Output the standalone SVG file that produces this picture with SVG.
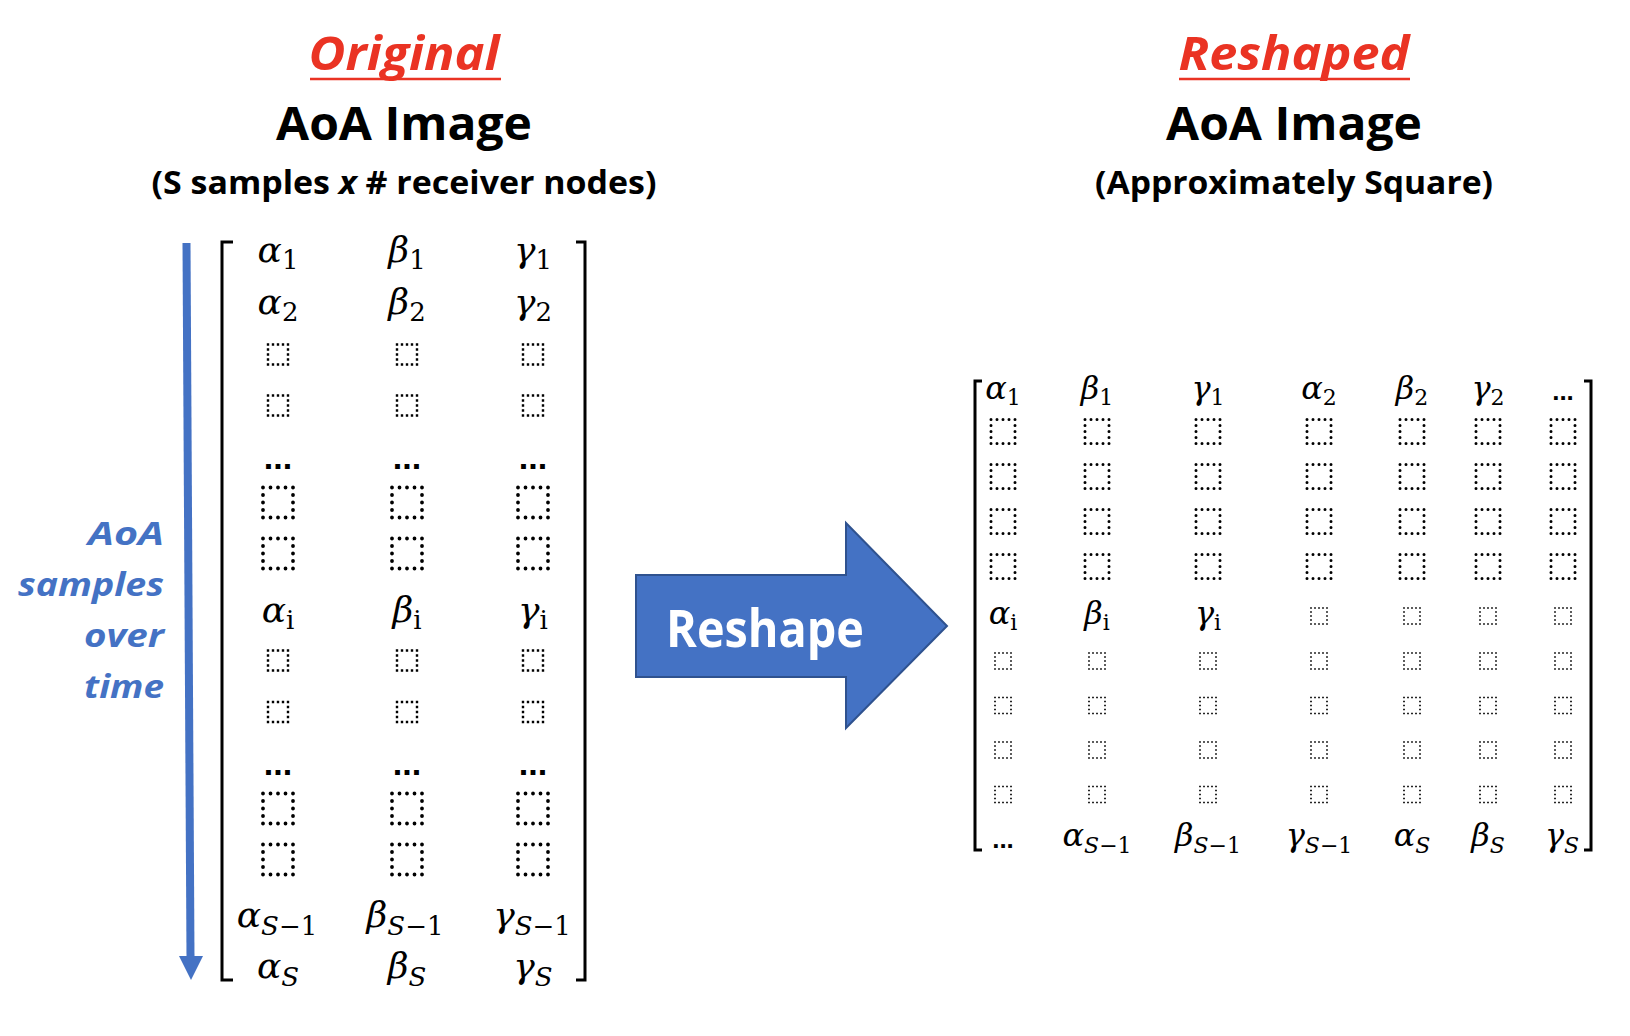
<svg xmlns="http://www.w3.org/2000/svg" xmlns:xlink="http://www.w3.org/1999/xlink" width="1630" height="1036" viewBox="0 0 1630 1036">
<style>
.t{font-family:"Open Sans","Liberation Sans",sans-serif;font-weight:700;text-anchor:middle}
.red{fill:#EA3323;font-style:italic}
.big{font-size:46px;fill:#000}
.subt{font-size:32px;fill:#000}
.side{font-family:"Open Sans","Liberation Sans",sans-serif;font-weight:700;font-style:italic;font-size:33px;fill:#4472C4;text-anchor:end}
.g{font-family:"DejaVu Serif","Liberation Serif",serif;font-style:italic;font-size:36px;text-anchor:middle;fill:#000}
.gr{font-family:"DejaVu Serif","Liberation Serif",serif;font-style:italic;font-size:32px;text-anchor:middle;fill:#000}
.s{font-style:normal;font-size:26px}
.sr{font-style:normal;font-size:22px}
.si{font-style:italic}
.dots{font-family:"Liberation Sans",sans-serif;font-weight:700;font-size:34px;text-anchor:middle;fill:#000}
.dotsr{font-family:"Liberation Sans",sans-serif;font-weight:700;font-size:26px;text-anchor:middle;fill:#000}
.br{fill:none;stroke:#000;stroke-width:3}
</style>
<defs>
<rect id="bsL" x="-10" y="-10" width="20" height="20" fill="none" stroke="#000" stroke-width="2.4" stroke-dasharray="0 5" stroke-linecap="square"/>
<rect id="bbL" x="-15" y="-15" width="30" height="30" fill="none" stroke="#000" stroke-width="3.8" stroke-dasharray="0 7.5" stroke-linecap="round"/>
<rect id="bbR" x="-12" y="-12" width="24" height="24" fill="none" stroke="#000" stroke-width="3" stroke-dasharray="0 6" stroke-linecap="round"/>
<rect id="bsR" x="-8" y="-8" width="16" height="16" fill="none" stroke="#000" stroke-width="1.7" stroke-dasharray="0 4" stroke-linecap="square"/>
</defs>
<rect width="1630" height="1036" fill="#fff"/>

<g id="title-original">
<text class="t red" x="404" y="70" font-size="46" textLength="191" lengthAdjust="spacingAndGlyphs">Original</text>
<line x1="310" y1="79" x2="501" y2="79" stroke="#EA3323" stroke-width="2.5"/>
<text class="t big" x="404" y="140" textLength="256" lengthAdjust="spacingAndGlyphs">AoA Image</text>
<text class="t subt" x="404" y="194" textLength="505" lengthAdjust="spacingAndGlyphs">(S samples <tspan font-style="italic">x</tspan> # receiver nodes)</text>
</g>

<g id="title-reshaped">
<text class="t red" x="1294" y="70" font-size="46" textLength="231" lengthAdjust="spacingAndGlyphs">Reshaped</text>
<line x1="1179" y1="79" x2="1410" y2="79" stroke="#EA3323" stroke-width="2.5"/>
<text class="t big" x="1294" y="140" textLength="256" lengthAdjust="spacingAndGlyphs">AoA Image</text>
<text class="t subt" x="1294" y="194" textLength="398" lengthAdjust="spacingAndGlyphs">(Approximately Square)</text>
</g>

<g id="time-label">
<text class="side" x="164" y="545" textLength="76" lengthAdjust="spacingAndGlyphs">AoA</text>
<text class="side" x="164" y="596" textLength="146" lengthAdjust="spacingAndGlyphs">samples</text>
<text class="side" x="164" y="647" textLength="80" lengthAdjust="spacingAndGlyphs">over</text>
<text class="side" x="164" y="698" textLength="80" lengthAdjust="spacingAndGlyphs">time</text>
</g>

<g id="connectors">
<line x1="186.5" y1="243" x2="190.5" y2="958" stroke="#4472C4" stroke-width="8"/>
<polygon points="179,956 203,956 191,980" fill="#4472C4"/>
</g>

<g id="original-matrix">
<path class="br" d="M233,242 H222 V980 H233"/>
<path class="br" d="M576,242 H585 V980 H576"/>
<text class="g" x="278" y="262">α<tspan class="s" dy="7">1</tspan></text>
<text class="g" x="407" y="262">β<tspan class="s" dy="7">1</tspan></text>
<text class="g" x="533" y="262">γ<tspan class="s" dy="7">1</tspan></text>
<text class="g" x="278" y="314">α<tspan class="s" dy="7">2</tspan></text>
<text class="g" x="407" y="314">β<tspan class="s" dy="7">2</tspan></text>
<text class="g" x="533" y="314">γ<tspan class="s" dy="7">2</tspan></text>
<use xlink:href="#bsL" x="278" y="354.5"/><use xlink:href="#bsL" x="407" y="354.5"/><use xlink:href="#bsL" x="533" y="354.5"/>
<use xlink:href="#bsL" x="278" y="405.5"/><use xlink:href="#bsL" x="407" y="405.5"/><use xlink:href="#bsL" x="533" y="405.5"/>
<text class="dots" x="278" y="469">...</text><text class="dots" x="407" y="469">...</text><text class="dots" x="533" y="469">...</text>
<use xlink:href="#bbL" x="278" y="502.5"/><use xlink:href="#bbL" x="407" y="502.5"/><use xlink:href="#bbL" x="533" y="502.5"/>
<use xlink:href="#bbL" x="278" y="553.5"/><use xlink:href="#bbL" x="407" y="553.5"/><use xlink:href="#bbL" x="533" y="553.5"/>
<text class="g" x="278" y="622">α<tspan class="s" dy="7">i</tspan></text>
<text class="g" x="407" y="622">β<tspan class="s" dy="7">i</tspan></text>
<text class="g" x="533" y="622">γ<tspan class="s" dy="7">i</tspan></text>
<use xlink:href="#bsL" x="278" y="660.5"/><use xlink:href="#bsL" x="407" y="660.5"/><use xlink:href="#bsL" x="533" y="660.5"/>
<use xlink:href="#bsL" x="278" y="712"/><use xlink:href="#bsL" x="407" y="712"/><use xlink:href="#bsL" x="533" y="712"/>
<text class="dots" x="278" y="775">...</text><text class="dots" x="407" y="775">...</text><text class="dots" x="533" y="775">...</text>
<use xlink:href="#bbL" x="278" y="808.5"/><use xlink:href="#bbL" x="407" y="808.5"/><use xlink:href="#bbL" x="533" y="808.5"/>
<use xlink:href="#bbL" x="278" y="859.5"/><use xlink:href="#bbL" x="407" y="859.5"/><use xlink:href="#bbL" x="533" y="859.5"/>
<text class="g" x="277" y="927">α<tspan class="s" dy="8"><tspan class="si">S</tspan>−1</tspan></text>
<text class="g" x="405" y="927">β<tspan class="s" dy="8"><tspan class="si">S</tspan>−1</tspan></text>
<text class="g" x="532" y="927">γ<tspan class="s" dy="8"><tspan class="si">S</tspan>−1</tspan></text>
<text class="g" x="278" y="978">α<tspan class="s si" dy="8">S</tspan></text>
<text class="g" x="407" y="978">β<tspan class="s si" dy="8">S</tspan></text>
<text class="g" x="533" y="978">γ<tspan class="s si" dy="8">S</tspan></text>
</g>

<g id="reshape-arrow">
<polygon points="636,575 846,575 846,523 947,626 846,728 846,677 636,677" fill="#4472C4" stroke="#2F528F" stroke-width="2"/>
<text class="t" x="765" y="647" font-size="52" fill="#fff" textLength="198" lengthAdjust="spacingAndGlyphs">Reshape</text>
</g>

<g id="reshaped-matrix">
<path class="br" d="M982,381 H975 V850 H982" stroke-width="2.5"/>
<path class="br" d="M1584,381 H1591 V850 H1584" stroke-width="2.5"/>
<text class="gr" x="1003" y="399">α<tspan class="sr" dy="6">1</tspan></text>
<text class="gr" x="1097" y="399">β<tspan class="sr" dy="6">1</tspan></text>
<text class="gr" x="1208" y="399">γ<tspan class="sr" dy="6">1</tspan></text>
<text class="gr" x="1319" y="399">α<tspan class="sr" dy="6">2</tspan></text>
<text class="gr" x="1412" y="399">β<tspan class="sr" dy="6">2</tspan></text>
<text class="gr" x="1488" y="399">γ<tspan class="sr" dy="6">2</tspan></text>
<text class="dotsr" x="1563" y="400">...</text>
<g>
<use xlink:href="#bbR" x="1003" y="431.5"/><use xlink:href="#bbR" x="1097" y="431.5"/><use xlink:href="#bbR" x="1208" y="431.5"/><use xlink:href="#bbR" x="1319" y="431.5"/><use xlink:href="#bbR" x="1412" y="431.5"/><use xlink:href="#bbR" x="1488" y="431.5"/><use xlink:href="#bbR" x="1563" y="431.5"/>
<use xlink:href="#bbR" x="1003" y="476.5"/><use xlink:href="#bbR" x="1097" y="476.5"/><use xlink:href="#bbR" x="1208" y="476.5"/><use xlink:href="#bbR" x="1319" y="476.5"/><use xlink:href="#bbR" x="1412" y="476.5"/><use xlink:href="#bbR" x="1488" y="476.5"/><use xlink:href="#bbR" x="1563" y="476.5"/>
<use xlink:href="#bbR" x="1003" y="521.5"/><use xlink:href="#bbR" x="1097" y="521.5"/><use xlink:href="#bbR" x="1208" y="521.5"/><use xlink:href="#bbR" x="1319" y="521.5"/><use xlink:href="#bbR" x="1412" y="521.5"/><use xlink:href="#bbR" x="1488" y="521.5"/><use xlink:href="#bbR" x="1563" y="521.5"/>
<use xlink:href="#bbR" x="1003" y="566.5"/><use xlink:href="#bbR" x="1097" y="566.5"/><use xlink:href="#bbR" x="1208" y="566.5"/><use xlink:href="#bbR" x="1319" y="566.5"/><use xlink:href="#bbR" x="1412" y="566.5"/><use xlink:href="#bbR" x="1488" y="566.5"/><use xlink:href="#bbR" x="1563" y="566.5"/>
</g>
<text class="gr" x="1003" y="624">α<tspan class="sr" dy="6">i</tspan></text>
<text class="gr" x="1097" y="624">β<tspan class="sr" dy="6">i</tspan></text>
<text class="gr" x="1208" y="624">γ<tspan class="sr" dy="6">i</tspan></text>
<use xlink:href="#bsR" x="1319" y="616"/><use xlink:href="#bsR" x="1412" y="616"/><use xlink:href="#bsR" x="1488" y="616"/><use xlink:href="#bsR" x="1563" y="616"/>
<g>
<use xlink:href="#bsR" x="1003" y="661"/><use xlink:href="#bsR" x="1097" y="661"/><use xlink:href="#bsR" x="1208" y="661"/><use xlink:href="#bsR" x="1319" y="661"/><use xlink:href="#bsR" x="1412" y="661"/><use xlink:href="#bsR" x="1488" y="661"/><use xlink:href="#bsR" x="1563" y="661"/>
<use xlink:href="#bsR" x="1003" y="705.5"/><use xlink:href="#bsR" x="1097" y="705.5"/><use xlink:href="#bsR" x="1208" y="705.5"/><use xlink:href="#bsR" x="1319" y="705.5"/><use xlink:href="#bsR" x="1412" y="705.5"/><use xlink:href="#bsR" x="1488" y="705.5"/><use xlink:href="#bsR" x="1563" y="705.5"/>
<use xlink:href="#bsR" x="1003" y="750"/><use xlink:href="#bsR" x="1097" y="750"/><use xlink:href="#bsR" x="1208" y="750"/><use xlink:href="#bsR" x="1319" y="750"/><use xlink:href="#bsR" x="1412" y="750"/><use xlink:href="#bsR" x="1488" y="750"/><use xlink:href="#bsR" x="1563" y="750"/>
<use xlink:href="#bsR" x="1003" y="794.5"/><use xlink:href="#bsR" x="1097" y="794.5"/><use xlink:href="#bsR" x="1208" y="794.5"/><use xlink:href="#bsR" x="1319" y="794.5"/><use xlink:href="#bsR" x="1412" y="794.5"/><use xlink:href="#bsR" x="1488" y="794.5"/><use xlink:href="#bsR" x="1563" y="794.5"/>
</g>
<text class="dotsr" x="1003" y="848">...</text>
<text class="gr" x="1097" y="846">α<tspan class="sr" dy="7"><tspan class="si">S</tspan>−1</tspan></text>
<text class="gr" x="1208" y="846">β<tspan class="sr" dy="7"><tspan class="si">S</tspan>−1</tspan></text>
<text class="gr" x="1319" y="846">γ<tspan class="sr" dy="7"><tspan class="si">S</tspan>−1</tspan></text>
<text class="gr" x="1412" y="846">α<tspan class="sr si" dy="7">S</tspan></text>
<text class="gr" x="1488" y="846">β<tspan class="sr si" dy="7">S</tspan></text>
<text class="gr" x="1562" y="846">γ<tspan class="sr si" dy="7">S</tspan></text>
</g>
</svg>
